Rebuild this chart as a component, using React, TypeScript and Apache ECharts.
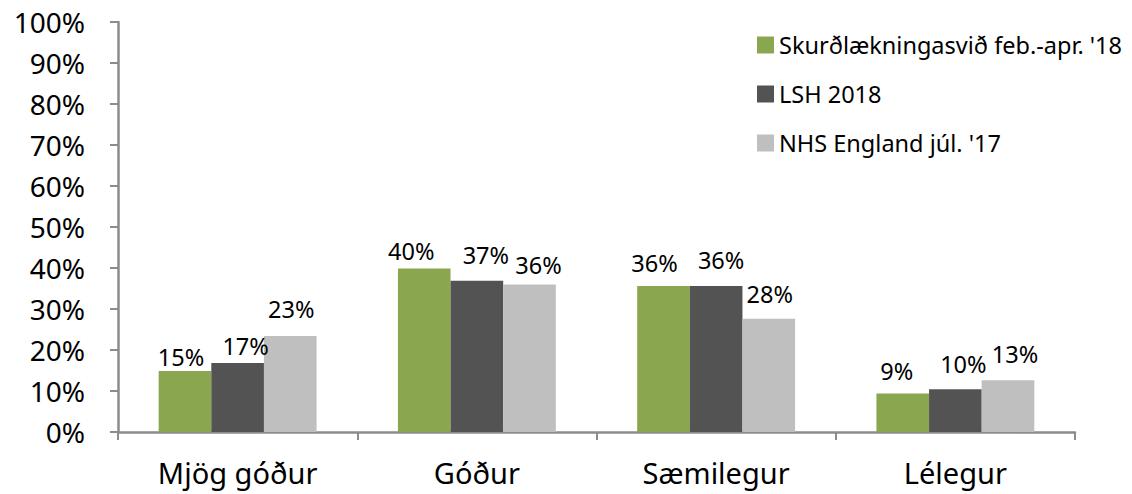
import React, { useEffect, useRef } from "react";
import * as echarts from "echarts";

const categories = ["Mjög góður", "Góður", "Sæmilegur", "Lélegur"];
const seriesNames = ["Skurðlækningasvið feb.-apr. '18", "LSH 2018", "NHS England júl. '17"];
const surgeryValues = [14.9, 39.9, 35.6, 9.4];
const lshValues = [16.8, 36.9, 35.6, 10.4];
const nhsValues = [23.4, 36.0, 27.6, 12.6];
const yTicks = [0, 10, 20, 30, 40, 50, 60, 70, 80, 90, 100];

const colors = ["#8AA64F", "#535353", "#BFBFBF"];
// label nudges (styling only), per series per category: [dx, dy]
const labelNudge: number[][][] = [
  [[-4, 3], [-13, 0], [-9, -6], [-6, -5]],
  [[8, 0], [9, -9], [5, -9], [8, -8]],
  [[1, -10], [9, -2], [1, -8], [7, -9]],
];

export default function App() {
  const ref = useRef<HTMLDivElement>(null);
  useEffect(() => {
    if (!ref.current) return;
    const chart = echarts.init(ref.current, undefined, { renderer: "svg" });
    const allValues = [surgeryValues, lshValues, nhsValues];
    const font = "'Noto Sans', sans-serif";
    chart.setOption({
      animation: false,
      textStyle: { fontFamily: font },
      legend: {
        orient: "vertical",
        left: 752,
        top: 28,
        itemWidth: 17,
        itemHeight: 17,
        itemGap: 25,
        icon: "rect",
        textStyle: { fontSize: 23.5, color: "#000", fontFamily: font, lineHeight: 24 },
        data: seriesNames,
      },
      grid: { left: 118, right: 57, top: 22, bottom: 62, containLabel: false },
      xAxis: {
        type: "category",
        data: categories,
        axisLine: { show: true, lineStyle: { color: "#8C8C8C", width: 2.5 } },
        axisTick: { show: true, interval: 0, length: 8, lineStyle: { color: "#8C8C8C", width: 2 } },
        axisLabel: { fontSize: 29, color: "#000", margin: 26, fontFamily: font },
      },
      yAxis: {
        type: "value",
        min: 0,
        max: 100,
        interval: 10,
        splitLine: { show: false },
        axisLine: { show: true, lineStyle: { color: "#8C8C8C", width: 2.5 } },
        axisTick: { show: true, length: 8, lineStyle: { color: "#8C8C8C", width: 2 } },
        axisLabel: {
          fontSize: 28,
          color: "#000",
          margin: 33,
          fontFamily: font,
          formatter: (v: number) => (yTicks.includes(v) ? v + "%" : ""),
        },
      },
      series: seriesNames.map((name, si) => ({
        name,
        type: "bar",
        barGap: "0%",
        barCategoryGap: "34%",
        itemStyle: { color: colors[si] },
        data: allValues[si].map((v, ci) => ({
          value: v,
          label: { offset: labelNudge[si][ci] },
        })),
        label: {
          show: true,
          position: "top",
          distance: 5,
          fontSize: 23.5,
          color: "#000",
          fontFamily: font,
          formatter: (p: any) => Math.round(p.value) + "%",
        },
      })),
    });
    return () => chart.dispose();
  }, []);
  return (
    <div
      ref={ref}
      style={{ position: "absolute", left: 0, top: 0, width: 1132, height: 494 }}
    />
  );
}
